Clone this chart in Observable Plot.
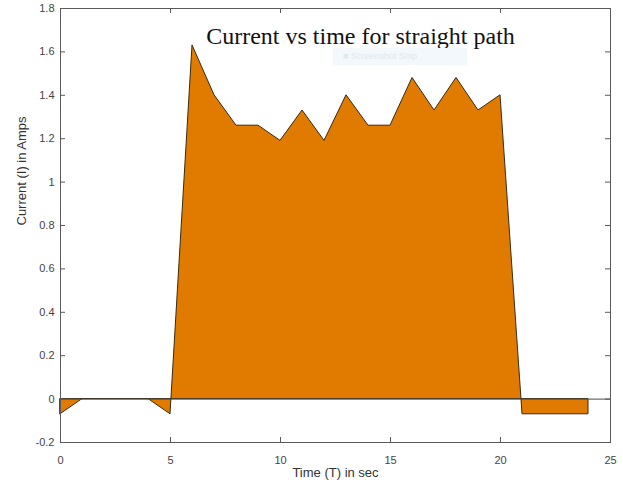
<!DOCTYPE html>
<html>
<head>
<meta charset="utf-8">
<script src="https://cdn.jsdelivr.net/npm/d3@7"></script>
<script src="https://cdn.jsdelivr.net/npm/@observablehq/plot@0.6"></script>
<style>
  html, body { margin: 0; padding: 0; background: #fff; }
  #wrap { position: relative; width: 623px; height: 484px; overflow: hidden; }
  #ghost { position: absolute; left: 333px; top: 48px; width: 134px; height: 17px;
           background: #f3f8fc; color: #e0e8f0; font: 9px "Liberation Sans", Arial, sans-serif;
           line-height: 17px; padding-left: 10px; box-sizing: border-box; }
</style>
</head>
<body>
<div id="wrap"></div>
<script>
// Data
const timeSec = [0, 1, 2, 3, 4, 5, 6, 7, 8, 9, 10, 11, 12, 13, 14, 15, 16, 17, 18, 19, 20, 21, 22, 23, 24];
const currentAmps = [-0.07, 0, 0, 0, 0, -0.07, 1.63, 1.40, 1.26, 1.26, 1.19, 1.33, 1.19, 1.40, 1.26, 1.26, 1.48, 1.33, 1.48, 1.33, 1.40, -0.07, -0.07, -0.07, -0.07];
const xTicks = [0, 5, 10, 15, 20, 25];
const yTicks = [-0.2, 0, 0.2, 0.4, 0.6, 0.8, 1, 1.2, 1.4, 1.6, 1.8];
const titleText = "Current vs time for straight path";
const xLabel = "Time (T) in sec";
const yLabel = "Current (I) in Amps";

const data = timeSec.map((t, i) => ({t, i: currentAmps[i]}));
const xDomain = [0, 25];
const yDomain = [-0.2, 1.8];
const fmt = d => Math.abs(d) < 1e-9 ? "0" : String(+d.toFixed(1));
const sans = "'Liberation Sans', Arial, Helvetica, sans-serif";
const axisColor = "#5a5a5a";

const chart = Plot.plot({
  width: 623,
  height: 484,
  marginLeft: 60,
  marginRight: 13,
  marginTop: 8,
  marginBottom: 42,
  style: {fontFamily: sans, fontSize: "11px", color: "#444", background: "#fff"},
  x: {domain: xDomain},
  y: {domain: yDomain},
  marks: [
    Plot.areaY(data, {x: "t", y: "i", fill: "#e07b00", stroke: "#3a2a12", strokeWidth: 1, curve: "linear"}),
    Plot.ruleY([0], {stroke: "#4a4a4a", strokeWidth: 1}),
    Plot.frame({stroke: axisColor, strokeWidth: 1}),
    // inward tick marks on all four sides
    Plot.ruleX(xTicks, {x: d => d, y1: yDomain[0], y2: yDomain[0], insetTop: -5, stroke: axisColor}),
    Plot.ruleX(xTicks, {x: d => d, y1: yDomain[1], y2: yDomain[1], insetBottom: -5, stroke: axisColor}),
    Plot.ruleY(yTicks, {y: d => d, x1: xDomain[0], x2: xDomain[0], insetRight: -5, stroke: axisColor}),
    Plot.ruleY(yTicks, {y: d => d, x1: xDomain[1], x2: xDomain[1], insetLeft: -5, stroke: axisColor}),
    Plot.axisX({ticks: xTicks, tickSize: 0, tickPadding: 14, tickFormat: fmt, label: null, fill: "#444", fontSize: 11}),
    Plot.axisY({ticks: yTicks, tickSize: 0, tickPadding: 6, tickFormat: fmt, label: null, fill: "#444", fontSize: 11}),
    Plot.text([xLabel], {frameAnchor: "bottom", dy: 34, fontSize: 13, fill: "#333", text: d => d}),
    Plot.text([yLabel], {frameAnchor: "left", dx: -39, rotate: -90, fontSize: 13, fill: "#333", text: d => d}),
    Plot.text([titleText], {frameAnchor: "top", dx: 25, dy: 35, lineAnchor: "bottom", fontSize: 24,
      fontFamily: "'Liberation Serif', 'Times New Roman', serif", fill: "#111", text: d => d})
  ]
});
const wrap = document.getElementById("wrap");
wrap.appendChild(chart);
const ghost = document.createElement("div");
ghost.id = "ghost";
ghost.textContent = "\u25A0  Screenshot Snip";
wrap.appendChild(ghost);
</script>
</body>
</html>
